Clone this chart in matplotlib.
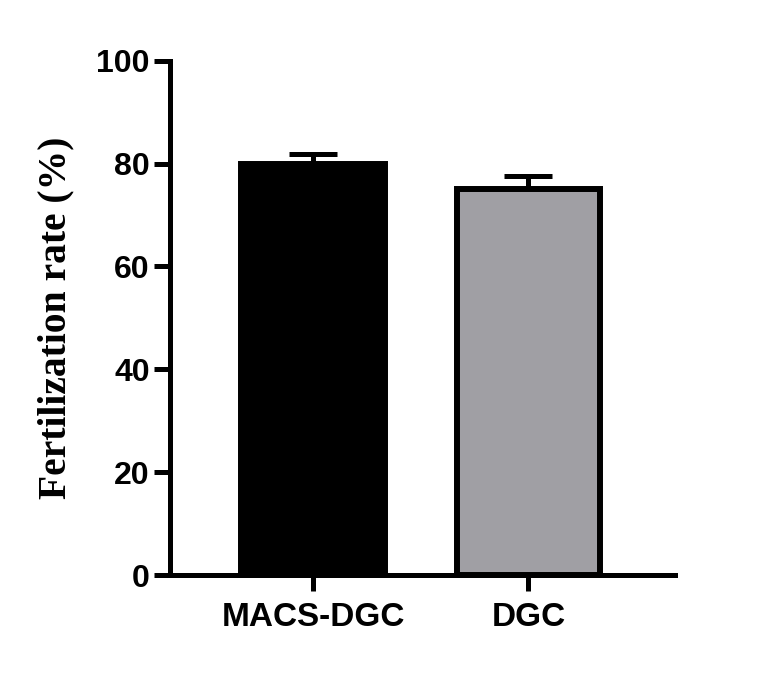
import matplotlib.pyplot as plt

# Data
groups = ["MACS-DGC", "DGC"]
rates = [80.0, 75.0]
errors = [1.8, 2.6]
bar_colors = ["#000000", "#a09fa4"]

fig = plt.figure(figsize=(7.72, 6.75), dpi=100)
ax = fig.add_axes([0.220, 0.148, 0.654, 0.762])

x = range(len(groups))
ax.bar(x, rates, width=0.665, color=bar_colors, edgecolor="black", linewidth=4.3, zorder=2)
ax.errorbar(x, rates, yerr=[[0, 0], errors], fmt="none", ecolor="black",
            elinewidth=3.6, capsize=17, capthick=3.6, zorder=1)

ax.set_xlim(-0.665, 1.68)
ax.set_ylim(0, 100)
ax.set_yticks([0, 20, 40, 60, 80, 100])
ax.set_xticks(list(x))
ax.set_xticklabels(groups)

for side in ["top", "right"]:
    ax.spines[side].set_visible(False)
for side in ["left", "bottom"]:
    ax.spines[side].set_linewidth(3.6)

ax.tick_params(axis="both", direction="out", length=11.5, width=3.6, pad=3)
ax.tick_params(axis="x", pad=8)
for lab in ax.get_yticklabels():
    lab.set_fontfamily("Liberation Sans")
    lab.set_fontweight("bold")
    lab.set_fontsize(23)
for lab in ax.get_xticklabels():
    lab.set_fontfamily("Liberation Sans")
    lab.set_fontweight("bold")
    lab.set_fontsize(24)

ax.set_ylabel("Fertilization rate (%)", family="Liberation Serif", fontweight="bold",
              fontsize=28.5, labelpad=16)

fig.savefig("out.png", dpi=100)
